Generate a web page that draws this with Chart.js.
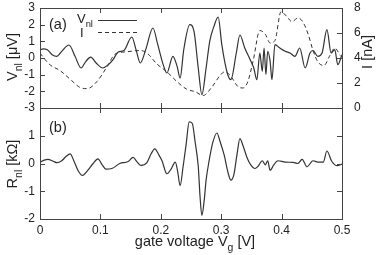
<!DOCTYPE html>
<html>
<head>
<meta charset="utf-8">
<script src="https://cdn.jsdelivr.net/npm/chart.js@4"></script>
<style>
  html, body { margin: 0; padding: 0; background: #fff; }
  #wrap { position: relative; width: 382px; height: 255px; overflow: hidden; }
  canvas { position: absolute; left: 0; }
  #top { top: 0; }
  #bottom { top: 100px; }
</style>
</head>
<body>
<div id="wrap">
  <canvas id="top" width="382" height="112"></canvas>
  <canvas id="bottom" width="382" height="155"></canvas>
</div>
<script>
// panel (a): nonlocal voltage V_nl [uV]
const VG_V = [0.000, 0.005, 0.012, 0.020, 0.028, 0.036, 0.048, 0.058, 0.068, 0.076,
  0.084, 0.093, 0.104, 0.113, 0.121, 0.129, 0.139, 0.152, 0.159, 0.166,
  0.175, 0.187, 0.195, 0.204, 0.210, 0.220, 0.227, 0.232, 0.238, 0.248,
  0.255, 0.262, 0.268, 0.275, 0.281, 0.288, 0.295, 0.301, 0.310, 0.316,
  0.325, 0.331, 0.339, 0.348, 0.354, 0.359, 0.364, 0.368, 0.371, 0.374,
  0.377, 0.381, 0.384, 0.389, 0.397, 0.406, 0.414, 0.422, 0.430, 0.439,
  0.447, 0.452, 0.460, 0.467, 0.475, 0.482, 0.488, 0.493, 0.500];
const V_NL = [0.48, 0.55, 0.5, 0.2, 0.1, 0.4, 0.78, 0.1, -0.6, -0.2,
  0.05, -0.3, -0.6, -0.4, -0.1, 0.35, 0.45, 1.26, 0.5, -0.3,
  0.5, 1.8, 0.8, -0.4, -0.9, 0.1, -0.5, -1.2, 0.5, 2.0,
  1.6, -0.6, -2.2, -0.6, 1.0, 1.9, 2.46, 0.8, -0.9, -1.3,
  0.3, 1.38, 0.6, -0.1, -0.6, -1.3, 0.3, -0.8, 0.6, -1.0,
  0.4, -0.2, -1.3, 0.8, 0.6, 0.4, 0.3, 0.1, 0.6, -0.6,
  0.3, 0.45, 0.1, 0.3, 1.7, 0.3, 0.5, -0.4, 0.2];

// panel (a): current I [nA] (right axis)
const VG_I = [0.000, 0.008, 0.017, 0.033, 0.050, 0.066, 0.078, 0.094, 0.111, 0.124,
  0.144, 0.166, 0.177, 0.194, 0.210, 0.227, 0.243, 0.257, 0.270, 0.285,
  0.298, 0.306, 0.315, 0.328, 0.336, 0.344, 0.353, 0.364, 0.373, 0.381,
  0.389, 0.399, 0.409, 0.417, 0.427, 0.435, 0.444, 0.452, 0.460, 0.470,
  0.480, 0.488, 0.497];
const I_CUR = [4.4, 3.9, 3.44, 3.0, 2.3, 1.65, 1.55, 2.1, 3.3, 4.3,
  4.5, 4.6, 4.4, 3.5, 2.9, 2.1, 1.5, 1.3, 1.0, 1.7,
  2.6, 2.9, 2.6, 1.7, 1.6, 2.1, 3.8, 6.2, 5.9, 5.2,
  5.4, 7.7, 7.3, 6.9, 7.2, 6.9, 5.9, 4.6, 3.7, 3.4,
  4.2, 4.8, 4.2];

// panel (b): nonlocal resistance R_nl [kOhm]
const VG_R = [0.000, 0.007, 0.013, 0.022, 0.028, 0.036, 0.043, 0.050, 0.056, 0.063,
  0.070, 0.079, 0.088, 0.096, 0.103, 0.109, 0.119, 0.132, 0.146, 0.154,
  0.161, 0.167, 0.177, 0.184, 0.190, 0.197, 0.202, 0.210, 0.217, 0.224,
  0.228, 0.232, 0.237, 0.242, 0.247, 0.252, 0.257, 0.262, 0.265, 0.268,
  0.272, 0.275, 0.280, 0.286, 0.293, 0.298, 0.305, 0.311, 0.316, 0.321,
  0.326, 0.331, 0.336, 0.343, 0.349, 0.356, 0.361, 0.368, 0.373, 0.377,
  0.381, 0.387, 0.394, 0.406, 0.419, 0.427, 0.434, 0.442, 0.452, 0.460,
  0.469, 0.475, 0.483, 0.492, 0.500];
const R_NL = [0.05, 0.12, 0.15, 0.08, 0.03, 0.1, 0.25, 0.35, 0.1, -0.25,
  -0.43, -0.25, 0.0, 0.17, -0.05, -0.2, -0.18, 0.0, 0.07, 0.22,
  0.05, -0.07, 0.03, 0.35, 0.53, 0.3, 0.1, -0.37, -0.2, 0.05,
  -0.3, -0.8, -0.1, 0.7, 1.5, 1.45, 0.75, -0.1, -1.2, -1.87,
  -1.3, -0.6, 0.1, 0.75, 1.1, 0.8, 0.3, -0.3, -0.6, -0.4,
  0.3, 0.9, 0.65, 0.2, -0.05, -0.18, -0.1, 0.1, -0.05, 0.1,
  -0.25, -0.05, 0.1, 0.05, 0.04, 0.0, 0.15, -0.12, 0.1, 0.05,
  0.05, 0.45, 0.08, -0.08, -0.02];

// tick values
const X_TICKS = [0, 0.1, 0.2, 0.3, 0.4, 0.5];
const V_TICKS = [-3, -2, -1, 0, 1, 2, 3];
const I_TICKS = [0, 2, 4, 6, 8];
const R_TICKS = [-2, -1, 0, 1, 2];
const R_TICK_LABELS = ['-2', '-1', '0', '1', ''];

const FONT = "'Liberation Sans', Arial, sans-serif";
const INK = '#222';
const LINE = '#333';

function pts(xs, ys) {
    return xs.map((x, i) => ({ x: x, y: ys[i] }));
}

// text with subscripts, parts = [[text, isSub], ...]
function drawParts(ctx, parts, x, y, size, align, rotate) {
    ctx.save();
    ctx.translate(x, y);
    if (rotate) ctx.rotate(-Math.PI / 2);
    ctx.textBaseline = 'alphabetic';
    ctx.textAlign = 'left';
    let total = 0;
    parts.forEach(p => {
        ctx.font = (p[1] ? size * 0.72 : size) + 'px ' + FONT;
        total += ctx.measureText(p[0]).width;
    });
    let cx = align === 'center' ? -total / 2 : 0;
    const base = size * 0.36;
    parts.forEach(p => {
        ctx.font = (p[1] ? size * 0.72 : size) + 'px ' + FONT;
        ctx.fillText(p[0], cx, p[1] ? base + size * 0.3 : base);
        cx += ctx.measureText(p[0]).width;
    });
    ctx.restore();
}

// no extra room for end labels, chart area is set by the fixed sizes
function fixV(s) {
    s.width = 40;
    s.paddingTop = 0;
    s.paddingBottom = 0;
}

// frame with gnuplot-like inward ticks
const framePlugin = {
    id: 'frame',
    afterDatasetsDraw(chart, args, opts) {
        const ctx = chart.ctx;
        const a = chart.chartArea;
        const sx = chart.scales.x;
        const sy = chart.scales.y;
        const tl = 5;
        ctx.save();
        ctx.strokeStyle = '#444';
        ctx.lineWidth = 1;
        ctx.beginPath();
        X_TICKS.forEach(v => {
            const px = Math.round(sx.getPixelForValue(v)) + 0.5;
            ctx.moveTo(px, a.bottom); ctx.lineTo(px, a.bottom - tl);
            ctx.moveTo(px, a.top); ctx.lineTo(px, a.top + tl);
        });
        opts.left.forEach(v => {
            const py = Math.round(sy.getPixelForValue(v)) + 0.5;
            ctx.moveTo(a.left, py); ctx.lineTo(a.left + tl, py);
        });
        const sr = chart.scales[opts.rightScale];
        opts.right.forEach(v => {
            const py = Math.round(sr.getPixelForValue(v)) + 0.5;
            ctx.moveTo(a.right, py); ctx.lineTo(a.right - tl, py);
        });
        ctx.stroke();
        ctx.strokeRect(Math.round(a.left) + 0.5, Math.round(a.top) + 0.5,
            Math.round(a.right - a.left), Math.round(a.bottom - a.top));
        ctx.restore();

        ctx.save();
        ctx.fillStyle = INK;
        opts.texts.forEach(t => drawParts(ctx, t.parts, t.x, t.y, t.size, t.align, t.rotate));
        // legend samples
        if (opts.legend) {
            ctx.strokeStyle = LINE;
            ctx.lineWidth = 1.2;
            ctx.beginPath();
            ctx.moveTo(98, 20.5); ctx.lineTo(137, 20.5);
            ctx.stroke();
            ctx.setLineDash([4, 3]);
            ctx.lineWidth = 1;
            ctx.beginPath();
            ctx.moveTo(98, 32.5); ctx.lineTo(137, 32.5);
            ctx.stroke();
        }
        ctx.restore();
    }
};

const tickFont = { family: FONT, size: 12 };
const noGrid = { display: false, drawTicks: false };

new Chart(document.getElementById('top'), {
    type: 'line',
    data: {
        datasets: [{
            label: 'Vnl',
            data: pts(VG_V, V_NL),
            yAxisID: 'y',
            borderColor: LINE,
            borderWidth: 1.2,
            pointRadius: 0,
            cubicInterpolationMode: 'monotone',
            fill: false
        }, {
            label: 'I',
            data: pts(VG_I, I_CUR),
            yAxisID: 'yI',
            borderColor: LINE,
            borderWidth: 1,
            borderDash: [4, 3],
            pointRadius: 0,
            cubicInterpolationMode: 'monotone',
            fill: false
        }]
    },
    options: {
        responsive: false,
        animation: false,
        layout: { padding: { top: 8, bottom: 4, left: 0, right: 0 } },
        plugins: {
            legend: { display: false },
            tooltip: { enabled: false },
            frame: {
                left: V_TICKS,
                right: I_TICKS,
                rightScale: 'yI',
                legend: true,
                texts: [
                    { parts: [['V', false], ['nl', true], [' [\u03bcV]', false]], x: 12, y: 57, size: 14.5, align: 'center', rotate: true },
                    { parts: [['I [nA]', false]], x: 367, y: 52, size: 14.5, align: 'center', rotate: true },
                    { parts: [['(a)', false]], x: 49, y: 24, size: 14.5, align: 'left' },
                    { parts: [['V', false], ['nl', true]], x: 77, y: 18, size: 13, align: 'left' },
                    { parts: [['I', false]], x: 80, y: 32, size: 13, align: 'left' }
                ]
            }
        },
        scales: {
            x: {
                type: 'linear', min: 0, max: 0.5, display: false
            },
            y: {
                type: 'linear', position: 'left', min: -3, max: 3,
                afterFit: fixV,
                afterBuildTicks: s => { s.ticks = V_TICKS.map(v => ({ value: v })); },
                grid: noGrid,
                border: { display: false },
                ticks: { font: tickFont, color: INK, padding: 5, autoSkip: false }
            },
            yI: {
                type: 'linear', position: 'right', min: 0, max: 8,
                afterFit: fixV,
                afterBuildTicks: s => { s.ticks = I_TICKS.map(v => ({ value: v })); },
                grid: noGrid,
                border: { display: false },
                ticks: { font: tickFont, color: INK, padding: 12, autoSkip: false }
            }
        }
    },
    plugins: [framePlugin]
});

new Chart(document.getElementById('bottom'), {
    type: 'line',
    data: {
        datasets: [{
            label: 'Rnl',
            data: pts(VG_R, R_NL),
            borderColor: LINE,
            borderWidth: 1.2,
            pointRadius: 0,
            cubicInterpolationMode: 'monotone',
            fill: false
        }]
    },
    options: {
        responsive: false,
        animation: false,
        layout: { padding: { top: 8, bottom: 0, left: 0, right: 40 } },
        plugins: {
            legend: { display: false },
            tooltip: { enabled: false },
            frame: {
                left: R_TICKS,
                right: R_TICKS,
                rightScale: 'y',
                legend: false,
                texts: [
                    { parts: [['R', false], ['nl', true], [' [k\u03a9]', false]], x: 12, y: 64, size: 14.5, align: 'center', rotate: true },
                    { parts: [['(b)', false]], x: 49, y: 27, size: 14.5, align: 'left' },
                    { parts: [['gate voltage V', false], ['g', true], [' [V]', false]], x: 195, y: 141, size: 14.5, align: 'center' }
                ]
            }
        },
        scales: {
            x: {
                type: 'linear', min: 0, max: 0.5,
                afterFit: s => { s.height = 36; s.paddingLeft = 0; s.paddingRight = 0; },
                afterBuildTicks: s => { s.ticks = X_TICKS.map(v => ({ value: v })); },
                grid: noGrid,
                border: { display: false },
                ticks: { font: tickFont, color: INK, padding: 4, maxRotation: 0, autoSkip: false }
            },
            y: {
                type: 'linear', position: 'left', min: -2, max: 2,
                afterFit: fixV,
                afterBuildTicks: s => { s.ticks = R_TICKS.map(v => ({ value: v })); },
                grid: noGrid,
                border: { display: false },
                ticks: {
                    font: tickFont, color: INK, padding: 5, autoSkip: false,
                    callback: (v) => R_TICK_LABELS[R_TICKS.indexOf(v)]
                }
            }
        }
    },
    plugins: [framePlugin]
});
</script>
</body>
</html>
